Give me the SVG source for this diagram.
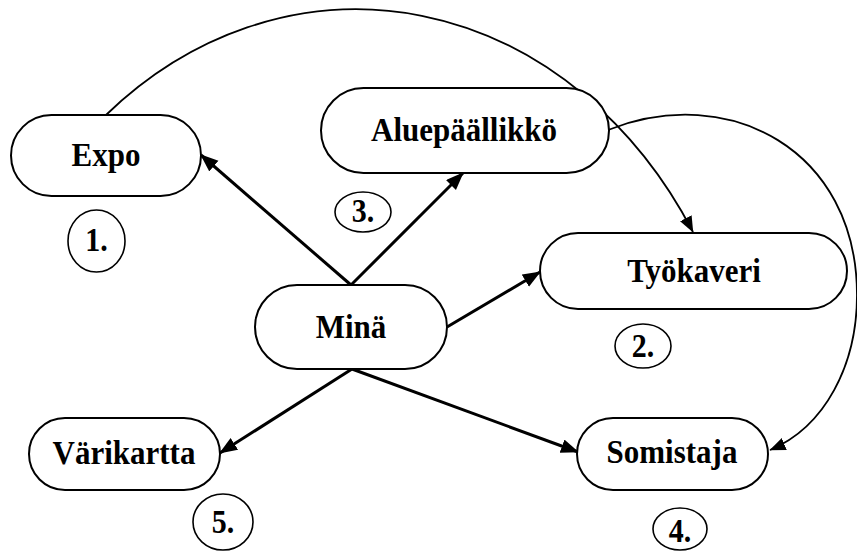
<svg xmlns="http://www.w3.org/2000/svg" width="857" height="551" viewBox="0 0 857 551">
  <defs>
    <marker id="thick" markerUnits="userSpaceOnUse" markerWidth="20" markerHeight="16" refX="17" refY="7" orient="auto">
      <path d="M0,0 L18,7 L0,14 z" fill="#000"/>
    </marker>
    <marker id="thin" markerUnits="userSpaceOnUse" markerWidth="18" markerHeight="14" refX="15.5" refY="6.5" orient="auto">
      <path d="M0,0 L16,6.5 L0,13 z" fill="#000"/>
    </marker>
  </defs>
  <style>
    .box { fill: #fff; stroke: #000; stroke-width: 2; }
    .num { fill: #fff; stroke: #000; stroke-width: 1.6; }
    .lbl { font-family: "Liberation Serif", "Times New Roman", serif; font-weight: bold; font-size: 31px; fill: #000; text-anchor: middle; }
    .nlbl { font-family: "Liberation Serif", "Times New Roman", serif; font-weight: bold; font-size: 30px; fill: #000; text-anchor: middle; }
    .thick { fill: none; stroke: #000; stroke-width: 3; marker-end: url(#thick); }
    .thin { fill: none; stroke: #000; stroke-width: 1.8; marker-end: url(#thin); }
  </style>
  <rect width="857" height="551" fill="#fff"/>

  <g id="connectors">
    <path class="thin" d="M106,115 A396,470 0 0 1 693,232"/>
    <path class="thin" d="M608,130 C729,82 857,150 857,295 C857,365 825,427 770,450"/>
    <line class="thick" x1="351" y1="285" x2="201" y2="155"/>
    <line class="thick" x1="351" y1="285" x2="463" y2="173"/>
    <line class="thick" x1="447" y1="327" x2="540" y2="272"/>
    <line class="thick" x1="352" y1="369" x2="220" y2="453"/>
    <line class="thick" x1="352" y1="369" x2="578" y2="452"/>
  </g>

  <g id="expo">
    <rect class="box" x="11" y="115" width="190" height="81" rx="40.5" ry="40.5"/>
    <text class="lbl" transform="translate(106,166) scale(1,1.1)">Expo</text>
  </g>
  <g id="aluepaallikko">
    <rect class="box" x="321" y="88" width="288" height="85" rx="42.5" ry="42.5"/>
    <text class="lbl" transform="translate(464,141) scale(1,1.1)">Aluepäällikkö</text>
  </g>
  <g id="tyokaveri">
    <rect class="box" x="540" y="233" width="307" height="76" rx="38" ry="38"/>
    <text class="lbl" transform="translate(694,282) scale(1,1.1)">Työkaveri</text>
  </g>
  <g id="mina">
    <rect class="box" x="255" y="285" width="192" height="84" rx="42" ry="42"/>
    <text class="lbl" transform="translate(351,338) scale(1,1.1)">Minä</text>
  </g>
  <g id="varikartta">
    <rect class="box" x="29" y="418" width="191" height="72" rx="36" ry="36"/>
    <text class="lbl" transform="translate(124,464) scale(1,1.1)">Värikartta</text>
  </g>
  <g id="somistaja">
    <rect class="box" x="577" y="418" width="191" height="72" rx="36" ry="36"/>
    <text class="lbl" transform="translate(672,463) scale(1,1.1)">Somistaja</text>
  </g>

  <g id="n1">
    <ellipse class="num" cx="96.5" cy="241" rx="28.5" ry="31"/>
    <text class="nlbl" transform="translate(96.5,251) scale(1,1.12)">1.</text>
  </g>
  <g id="n2">
    <ellipse class="num" cx="643" cy="346" rx="28" ry="22"/>
    <text class="nlbl" transform="translate(643,357) scale(1,1.12)">2.</text>
  </g>
  <g id="n3">
    <ellipse class="num" cx="363" cy="212" rx="28" ry="20"/>
    <text class="nlbl" transform="translate(363,222) scale(1,1.12)">3.</text>
  </g>
  <g id="n4">
    <ellipse class="num" cx="680" cy="529" rx="27" ry="21"/>
    <text class="nlbl" transform="translate(680,542) scale(1,1.12)">4.</text>
  </g>
  <g id="n5">
    <ellipse class="num" cx="223" cy="522" rx="30" ry="28"/>
    <text class="nlbl" transform="translate(223,533) scale(1,1.12)">5.</text>
  </g>
</svg>
